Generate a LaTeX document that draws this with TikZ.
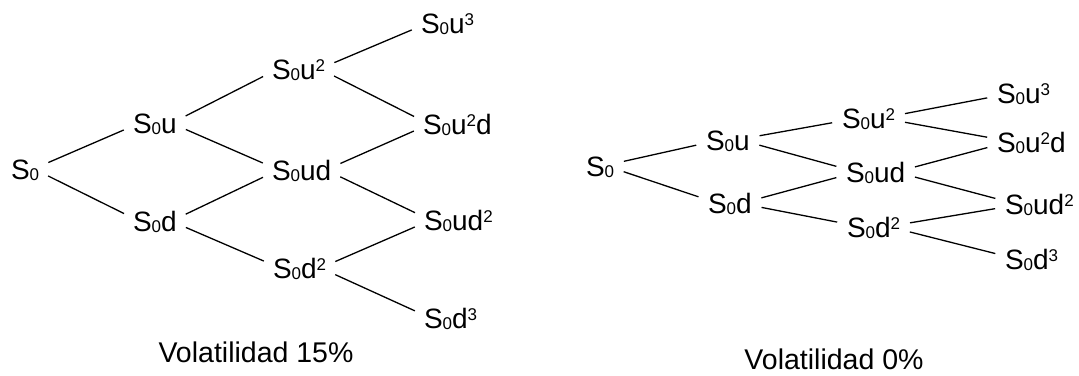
\documentclass[tikz,border=0pt]{standalone}
\usepackage{fontspec}
\setmainfont{Liberation Sans}
% price labels: S with a lowered 0 and raised powers
\newcommand\Sz{S\raisebox{-1pt}{\fontsize{17}{17}\selectfont 0}}
\newcommand\pw[1]{\raisebox{8pt}{\fontsize{17}{17}\selectfont #1}}
\begin{document}
\begin{tikzpicture}[x=1pt,y=-1pt,
  price/.style={anchor=west,inner sep=0pt,outer sep=0pt,text height=20pt,text depth=0pt,
    font=\fontsize{28}{30}\selectfont},
  caption/.style={inner sep=0pt,font=\fontsize{28.5}{30}\selectfont},
  branch/.style={line width=1.3pt,shorten >=10pt,shorten <=10pt}]
\useasboundingbox (0,0) rectangle (1079,375);
% up branch leaves the upper right of a node and meets the lower left of the next
\newcommand\upto[2]{\draw[branch] ([yshift=2.5pt]#1.east) -- ([yshift=-3pt]#2.west);}
\newcommand\downto[2]{\draw[branch] ([yshift=-2.5pt]#1.east) -- ([yshift=3pt]#2.west);}

% ---- tree with volatility 15%
\node[price] (a0) at (11,169) {\Sz};
\node[price] (a1u) at (133,123) {\Sz u};
\node[price] (a1d) at (133,221) {\Sz d};
\node[price] (a2uu) at (272,69) {\Sz u\pw{2}};
\node[price] (a2ud) at (272,170) {\Sz ud};
\node[price] (a2dd) at (273,268) {\Sz d\pw{2}};
\node[price] (a3uuu) at (421,23) {\Sz u\pw{3}};
\node[price] (a3uud) at (423,124) {\Sz u\pw{2}d};
\node[price] (a3udd) at (424,220) {\Sz ud\pw{2}};
\node[price] (a3ddd) at (424,318) {\Sz d\pw{3}};
\node[caption] (cap1) at (256,352) {Volatilidad 15\%};

\upto{a0}{a1u} \downto{a0}{a1d}
\upto{a1u}{a2uu} \downto{a1u}{a2ud}
\upto{a1d}{a2ud} \downto{a1d}{a2dd}
\upto{a2uu}{a3uuu} \downto{a2uu}{a3uud}
\upto{a2ud}{a3uud} \downto{a2ud}{a3udd}
\upto{a2dd}{a3udd} \downto{a2dd}{a3ddd}

% ---- tree with volatility 0%
\node[price] (b0) at (586,166) {\Sz};
\node[price] (b1u) at (706,140) {\Sz u};
\node[price] (b1d) at (708,203) {\Sz d};
\node[price] (b2uu) at (842,118) {\Sz u\pw{2}};
\node[price] (b2ud) at (846,172) {\Sz ud};
\node[price] (b2dd) at (847,227) {\Sz d\pw{2}};
\node[price] (b3uuu) at (997,93) {\Sz u\pw{3}};
\node[price] (b3uud) at (997,142) {\Sz u\pw{2}d};
\node[price] (b3udd) at (1005,204) {\Sz ud\pw{2}};
\node[price] (b3ddd) at (1005,259) {\Sz d\pw{3}};
\node[caption] (cap2) at (834,359) {Volatilidad 0\%};

\upto{b0}{b1u} \downto{b0}{b1d}
\upto{b1u}{b2uu} \downto{b1u}{b2ud}
\upto{b1d}{b2ud} \downto{b1d}{b2dd}
\upto{b2uu}{b3uuu} \downto{b2uu}{b3uud}
\upto{b2ud}{b3uud} \downto{b2ud}{b3udd}
\upto{b2dd}{b3udd} \downto{b2dd}{b3ddd}
\end{tikzpicture}
\end{document}
